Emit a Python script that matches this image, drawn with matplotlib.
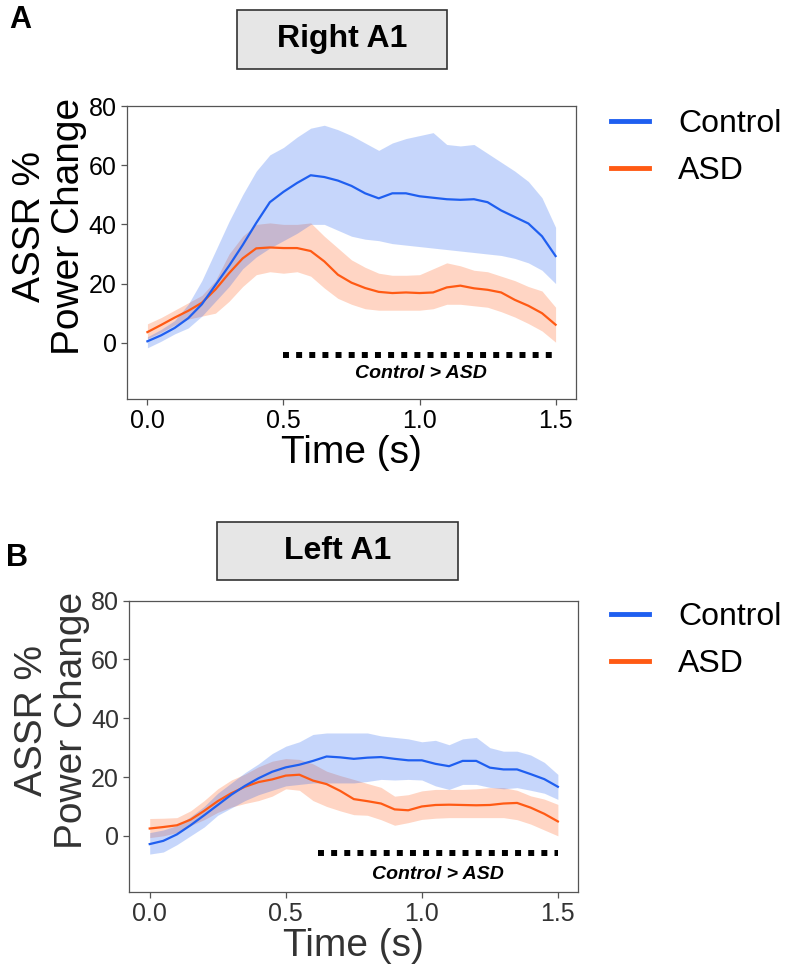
import numpy as np
import matplotlib
matplotlib.use("Agg")
import matplotlib.pyplot as plt
from matplotlib.patches import Rectangle

plt.rcParams["font.family"] = ["Liberation Sans", "DejaVu Sans"]

# ---- data ----
time = np.round(np.arange(0, 1.5001, 0.05), 2)

# Right A1
right_ctrl_mean = [0.5, 2.5, 5, 8.3, 13, 19.5, 26, 33, 40.5, 47.5, 51, 54, 56.6, 56, 54.8, 53,
                   50.5, 48.8, 50.5, 50.5, 49.5, 49, 48.5, 48.3, 48.5, 47.5, 44.7, 42.5, 40.3, 36, 29.3]
right_ctrl_hi = [2, 4.5, 7.5, 13, 21, 31, 41, 50, 58, 63.5, 66, 69.5, 72.5, 73.5, 72, 70,
                 67.5, 65, 67.5, 69, 70, 71, 67, 66.5, 67, 64, 61, 58, 54.5, 49, 39]
right_ctrl_lo = [-1.7, 0.5, 3, 5, 9, 14, 19, 25, 29, 32, 34.5, 37, 40, 40, 38, 36,
                 35, 34.5, 33.5, 33, 32.5, 32, 31.5, 31, 30.5, 30, 29.5, 28.5, 27, 24.5, 20]
right_asd_mean = [3.6, 6, 8.5, 10.8, 13.5, 18, 23.5, 28.5, 31.9, 32.2, 32, 32, 31, 27.5, 23, 20.3,
                  18.5, 17.2, 16.8, 17, 16.8, 17, 18.7, 19.3, 18.4, 17.9, 17, 14.5, 12.5, 10, 6.1]
right_asd_hi = [6.4, 8.5, 11, 13.5, 16, 21, 30, 36, 40, 40.5, 40, 40, 40.5, 36, 32, 28,
                25.5, 23.5, 22.8, 22.8, 23, 25, 27, 26, 24.5, 24, 22.5, 21, 19, 17.5, 12]
right_asd_lo = [1.4, 3.5, 6, 8, 9, 10, 14, 19, 23, 24, 23.5, 24, 22.5, 18.5, 15, 13,
                11.5, 11, 11, 11, 11, 11.5, 13, 13, 12.5, 12, 10.5, 8.7, 6.5, 4, 0.2]

# Left A1
left_ctrl_mean = [-2.8, -1.7, 0.5, 3.6, 7, 10.5, 14, 17, 19.6, 21.8, 23.3, 24.2, 25.5, 27, 26.7, 26.2,
                  26.6, 26.8, 26.2, 25.7, 25.7, 24.5, 23.7, 25.5, 25.5, 23.2, 22.6, 22.6, 21, 19.3, 16.7]
left_ctrl_hi = [1.1, 2, 3.5, 6.5, 10, 14.5, 18, 21.5, 24.5, 28, 30.5, 32, 34.5, 35, 35, 35,
                35, 34, 33.5, 33, 32, 32.5, 31, 33, 33.5, 30, 28.8, 28.8, 27.5, 25, 20.9]
left_ctrl_lo = [-6.2, -5.5, -3, 0, 3, 7, 9.5, 12, 14, 15.5, 17, 17.5, 18, 18, 18, 18,
                18.5, 19.2, 19, 19.2, 19, 17, 15.8, 17.5, 17.5, 16.5, 16, 16.4, 15.5, 14.5, 12.4]
left_asd_mean = [2.5, 3, 3.6, 5.5, 8.5, 11.8, 14.5, 16.7, 18.3, 19.2, 20.5, 20.8, 18.8, 17.6, 15.3, 12.5,
                 11.8, 11, 9, 8.7, 10, 10.5, 10.6, 10.5, 10.4, 10.5, 11, 11.2, 9.6, 7.5, 4.9]
left_asd_hi = [5.9, 6, 6.2, 8.5, 12, 16, 19, 21, 23.5, 25.4, 26.3, 26, 24.5, 22, 20.5, 19.2,
               17.8, 16.5, 13.5, 14, 15.3, 15.8, 15.8, 15.8, 16, 16.4, 16.4, 15.5, 13.6, 12.5, 10.7]
left_asd_lo = [-0.6, 0, 1.1, 3.5, 5.5, 8, 9.8, 11, 12, 13.5, 16, 15.5, 12, 10, 8.5, 7.2,
               7, 5.5, 3.6, 4.5, 5.6, 6, 6.2, 6.2, 6.2, 6.2, 6.2, 5.5, 4, 2, 0]

# significance bars: (start, end, y)
right_sig = (0.5, 1.5, -4)
left_sig = (0.62, 1.5, -6)

CTRL = "#1f5ff0"
ASD = "#ff5a14"

fig = plt.figure(figsize=(7.87, 9.72), dpi=100)


def panel(rect, title, title_box, letter, letter_xy, ctrl, asd, sig, sig_text_xy, txt_col, leg_y):
    ax = fig.add_axes(rect)
    ax.fill_between(time, asd[2], asd[1], color=ASD, alpha=0.25, lw=0)
    ax.fill_between(time, ctrl[2], ctrl[1], color=CTRL, alpha=0.25, lw=0)
    ax.plot(time, asd[0], color=ASD, lw=1.6, label="ASD")
    ax.plot(time, ctrl[0], color=CTRL, lw=1.6, label="Control")
    ax.plot([sig[0], sig[1]], [sig[2], sig[2]], color="black", lw=4.3,
            dashes=(1, 1.2), dash_capstyle="butt")
    ax.text(sig_text_xy[0], sig_text_xy[1], "Control > ASD", ha="center", va="center",
            fontsize=14, fontweight="bold", fontstyle="italic")
    ax.set_xlim(-0.075, 1.575)
    ax.set_ylim(-19, 80)
    ax.set_xticks([0, 0.5, 1.0, 1.5])
    ax.set_xticklabels(["0.0", "0.5", "1.0", "1.5"])
    ax.set_yticks([0, 20, 40, 60, 80])
    for s in ax.spines.values():
        s.set_color("#555555")
        s.set_linewidth(0.9)
    ax.tick_params(labelsize=18, colors="#555555", labelcolor=txt_col, length=4, width=0.9)
    ax.set_xlabel("Time (s)", fontsize=28, color=txt_col, labelpad=1)
    ax.set_ylabel("ASSR %\nPower Change", fontsize=28, color=txt_col, linespacing=1.12)
    ax.yaxis.set_label_coords(-0.088, 0.59)
    h, l = ax.get_legend_handles_labels()
    leg = ax.legend(h[::-1], l[::-1], loc="upper left", bbox_to_anchor=(0.76, leg_y),
                    bbox_transform=fig.transFigure, frameon=False, fontsize=23,
                    handlelength=1.2, handletextpad=0.9, labelspacing=0.55, borderaxespad=0)
    for line in leg.get_lines():
        line.set_linewidth(3.5)
    # title box
    bx, by, bw, bh = title_box
    fig.patches.append(Rectangle((bx, by), bw, bh, transform=fig.transFigure,
                                 facecolor="#e6e6e6", edgecolor="#333333", lw=1.2))
    fig.text(bx + bw / 2, by + bh / 2, title, ha="center", va="center",
             fontsize=23, fontweight="bold")
    fig.text(letter_xy[0], letter_xy[1], letter, ha="center", va="center",
             fontsize=22, fontweight="bold")
    return ax


W, H = 787.0, 972.0
panel([127 / W, 1 - 399 / H, 449 / W, 293 / H], "Right A1",
      (237 / W, 1 - 69 / H, 210 / W, 59 / H), "A", (20 / W, 1 - 20 / H),
      (right_ctrl_mean, right_ctrl_hi, right_ctrl_lo),
      (right_asd_mean, right_asd_hi, right_asd_lo),
      right_sig, (1.007, -10.4), "black", 1 - 96 / H)
panel([129.3 / W, 1 - 891.7 / H, 449 / W, 291 / H], "Left A1",
      (217 / W, 1 - 580 / H, 241 / W, 58 / H), "B", (17 / W, 1 - 558 / H),
      (left_ctrl_mean, left_ctrl_hi, left_ctrl_lo),
      (left_asd_mean, left_asd_hi, left_asd_lo),
      left_sig, (1.06, -13), "#333333", 1 - 589 / H)

fig.savefig("out.png", dpi=100)
